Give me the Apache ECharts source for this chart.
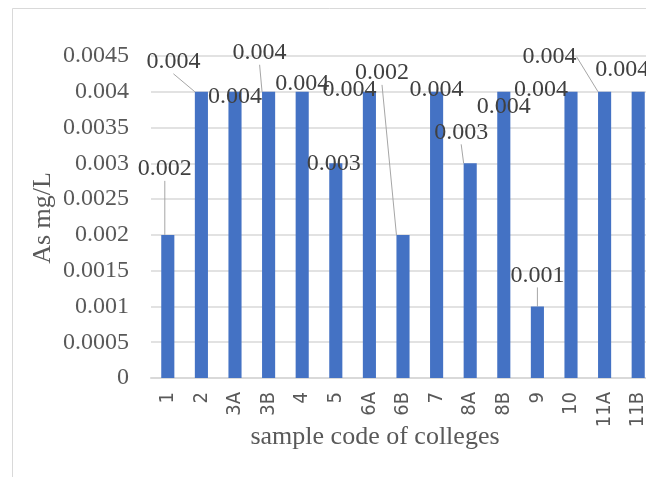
<!DOCTYPE html>
<html>
<head>
<meta charset="utf-8">
<script src="https://cdn.jsdelivr.net/npm/echarts@6/dist/echarts.min.js"></script>
<style>
  html, body { margin: 0; padding: 0; background: #ffffff; }
  #chart { width: 646px; height: 477px; }
</style>
</head>
<body>
<div id="chart"></div>
<script>
// Arsenic concentration per college sample
const categories = ['1', '2', '3A', '3B', '4', '5', '6A', '6B', '7', '8A', '8B', '9', '10', '11A', '11B'];
const asValues = [0.002, 0.004, 0.004, 0.004, 0.004, 0.003, 0.004, 0.002, 0.004, 0.003, 0.004, 0.001, 0.004, 0.004, 0.004];
const yTicks = { min: 0, max: 0.0045, interval: 0.0005 };

// Where each value label sits relative to the top centre of its bar,
// and whether a leader line joins them
const labelShift = [
  [-3, -66], [-28, -30], [0, 5], [-9, -39], [0, -8], [-2, 0], [-20, -2], [-21, -162],
  [0, -2], [-9, -31], [0, 15], [0, -31], [-30, -2], [-55, -35], [-16, -22]
];
const withLeader = [true, true, false, true, false, false, false, true, false, true, false, true, false, true, false];

const serif = '"Liberation Serif", "Times New Roman", serif';
const narrowSans = '"Liberation Sans Narrow", "DejaVu Sans Condensed", "Arial Narrow", sans-serif';

const chart = echarts.init(document.getElementById('chart'), null, { renderer: 'canvas' });

chart.setOption({
  backgroundColor: '#ffffff',
  animation: false,
  grid: {
    left: 151, top: 56, width: 504, height: 322,
    containLabel: false, outerBoundsMode: 'none'
  },
  xAxis: {
    type: 'category',
    data: categories,
    axisTick: { show: false },
    axisLine: { lineStyle: { color: '#d9d9d9', width: 2 } },
    axisLabel: {
      rotate: 90, margin: 14, interval: 0,
      color: '#595959', fontFamily: narrowSans, fontSize: 20
    }
  },
  yAxis: {
    type: 'value',
    min: yTicks.min, max: yTicks.max, interval: yTicks.interval,
    axisLine: { show: false },
    axisTick: { show: false },
    splitLine: { lineStyle: { color: '#d9d9d9', width: 1.5 } },
    axisLabel: {
      margin: 22, color: '#595959', fontFamily: serif, fontSize: 24,
      formatter: v => String(+v.toFixed(4))
    }
  },
  series: [{
    type: 'bar',
    barWidth: '39%',
    itemStyle: { color: '#4472c4' },
    data: asValues.map((v, i) => ({ value: v, labelLine: { show: withLeader[i] } })),
    label: {
      show: true, position: 'top', distance: 0,
      color: '#404040', fontFamily: serif, fontSize: 24,
      formatter: p => String(p.value)
    },
    labelLine: { show: false, lineStyle: { color: '#a6a6a6', width: 1 } },
    labelLayout: p => {
      const s = labelShift[p.dataIndex];
      return {
        x: p.rect.x + p.rect.width / 2 + s[0],
        y: p.rect.y + s[1],
        align: 'center',
        verticalAlign: 'middle'
      };
    }
  }],
  graphic: [
    {
      type: 'rect', silent: true, z: -1,
      shape: { x: 12.5, y: 8.5, width: 700, height: 520 },
      style: { fill: 'none', stroke: '#d9d9d9', lineWidth: 1 }
    },
    {
      type: 'text', silent: true,
      x: 375, y: 437,
      style: {
        text: 'sample code of colleges', x: 0, y: 0,
        align: 'center', verticalAlign: 'middle',
        fill: '#595959', font: '26px ' + serif
      }
    },
    {
      type: 'text', silent: true,
      x: 43, y: 218, rotation: Math.PI / 2,
      style: {
        text: 'As mg/L', x: 0, y: 0,
        align: 'center', verticalAlign: 'middle',
        fill: '#595959', font: '26px ' + serif
      }
    }
  ]
});
</script>
</body>
</html>
